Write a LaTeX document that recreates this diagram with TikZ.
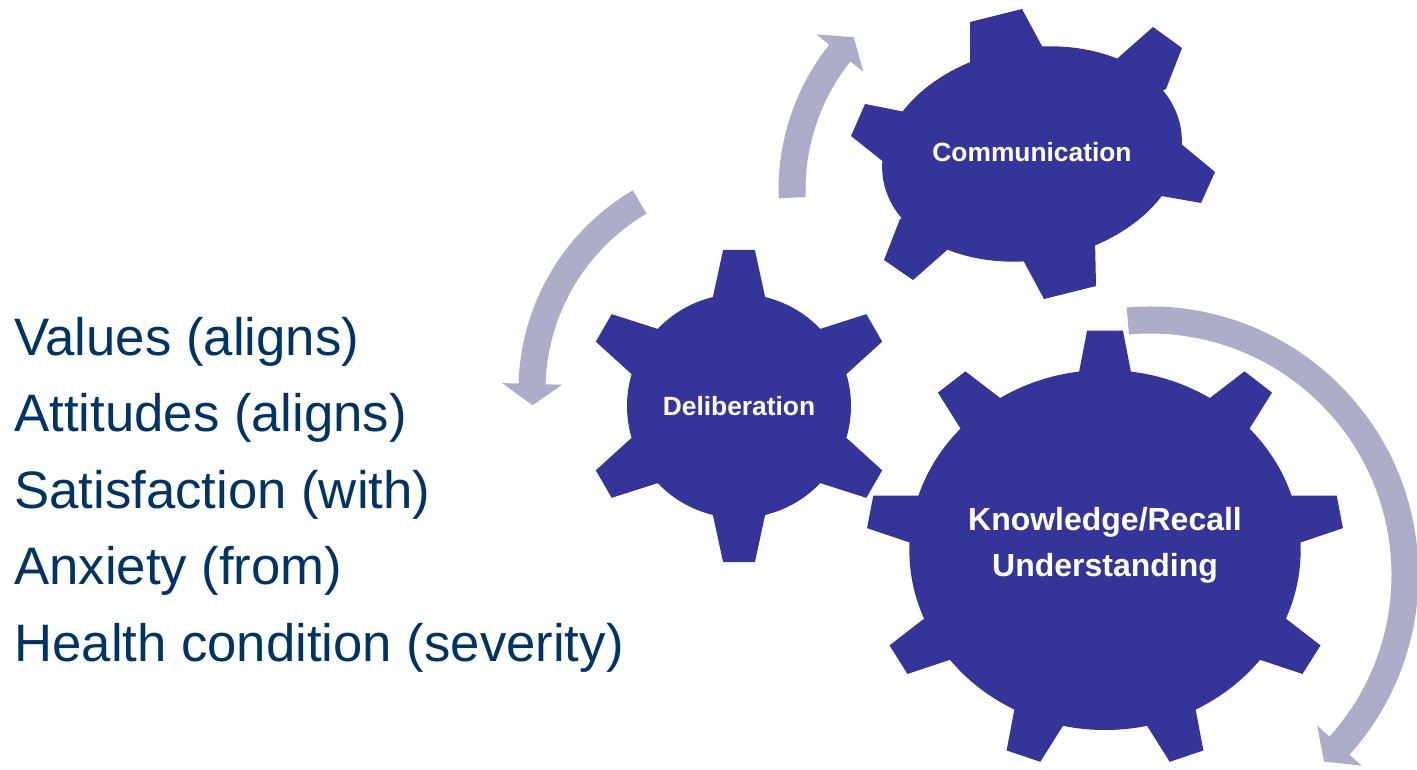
\documentclass[tikz,border=0pt]{standalone}
\usepackage{fontspec}
\setmainfont{Liberation Sans}
\usepackage{xcolor}
\usetikzlibrary{positioning,calc}

\definecolor{gearblue}{RGB}{53,53,153}
\definecolor{turngray}{RGB}{173,173,202}
\definecolor{listblue}{RGB}{0,51,102}

% round gear: [extra transform] centre, body r, tip r, teeth, first angle, base half angle, tip half angle
\newcommand{\roundgear}[8][]{%
  \begin{scope}[shift={#2},#1]
    \fill[gearblue] (0,0) circle[radius=#3];
    \foreach \k in {1,...,#5}{
      \pgfmathsetmacro{\a}{#6+360*(\k-1)/#5}
      \fill[gearblue] (0,0) -- ({\a-#7}:#3) -- ({\a-#8}:#4) -- ({\a+#8}:#4) -- ({\a+#7}:#3) -- cycle;
    }
  \end{scope}}

% turning arrow: centre, radius, start angle, end angle, tip angle
\newcommand{\turnarrow}[5]{%
  \begin{scope}[shift={#1}]
    \fill[turngray] ({#3}:{#2+13.5}) arc[start angle=#3, end angle=#4, radius=#2+13.5]
      -- ({#4}:{#2+30}) -- ({#5}:{#2}) -- ({#4}:{#2-30}) -- ({#4}:{#2-13.5})
      arc[start angle=#4, end angle=#3, radius=#2-13.5] -- cycle;
  \end{scope}}

\begin{document}
\begin{tikzpicture}[x=0.02cm, y=0.02cm,
    gearlabel/.style={text=white, inner sep=0pt, align=center, font=\bfseries\fontsize{15}{18}\selectfont},
    listitem/.style={text=listblue, inner sep=0pt, anchor=base west, font=\fontsize{30}{36}\selectfont}
]
    \useasboundingbox[fill=white] (0,0) rectangle (1417,769);

    % arrows
    \turnarrow{(1012,579)}{220}{182}{141.5}{136}
    \turnarrow{(750,379)}{218}{120.4}{178.4}{184}
    \turnarrow{(1150,194)}{255}{95}{-42}{-47}

    % gears
    \roundgear{(739,363)}{112}{157}{6}{90}{13.5}{5.8}
    \roundgear[xscale=1.087]{(1105,219)}{180}{220}{9}{90}{7.6}{4.3}

    \fill[gearblue, rotate around={10:(1032,615)}] (1032,615) ellipse[x radius=151, y radius=106];
    \foreach \xa/\ya/\xb/\yb/\xc/\yc/\xd/\yd in {
        970/701/970/747/1022/760/1043/721,
        1119/712/1153/742/1182/721/1166/680,
        1180/626/1215/597/1201/566/1156/574,
        1095/530/1096/483/1044/470/1023/509,
        946/518/913/489/884/509/900/550,
        885/606/851/633/865/665/910/656}
      \fill[gearblue] (1032,615) -- (\xa,\ya) -- (\xb,\yb) -- (\xc,\yc) -- (\xd,\yd) -- cycle;

    % labels
    \node[gearlabel] (comm) at (1032,617) {Communication};
    \node[gearlabel] (delib) at (739,363) {Deliberation};
    \node[gearlabel, font=\bfseries\fontsize{18.2}{26.2}\selectfont] (know) at (1105,224) {Knowledge/Recall\\Understanding};

    \foreach \txt [count=\i] in {Values (aligns), Attitudes (aligns), Satisfaction (with), Anxiety (from), Health condition (severity)}
      \node[listitem] (item\i) at (14,{414-76.5*(\i-1)}) {\txt};
\end{tikzpicture}
\end{document}
